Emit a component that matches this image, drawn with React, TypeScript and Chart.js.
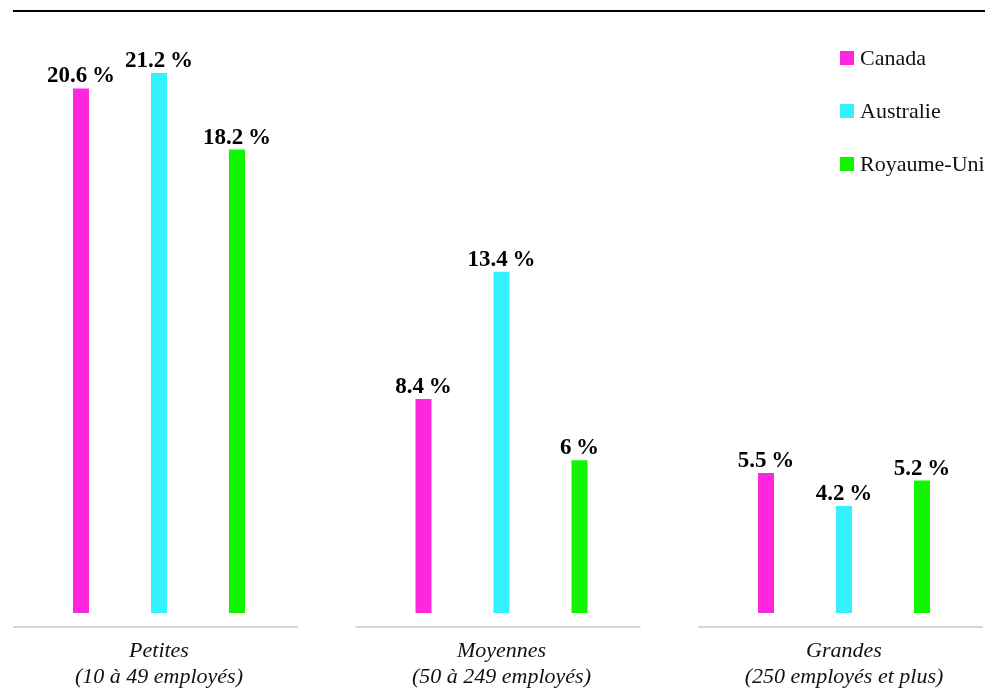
import React, { useEffect, useRef } from "react";
import { Chart, registerables } from "chart.js";

Chart.register(...registerables);

const categories: string[][] = [
  ["Petites", "(10 à 49 employés)"],
  ["Moyennes", "(50 à 249 employés)"],
  ["Grandes", "(250 employés et plus)"],
];
const seriesNames = ["Canada", "Australie", "Royaume-Uni"];
const canadaValues = [20.6, 8.4, 5.5];
const australieValues = [21.2, 13.4, 4.2];
const royaumeUniValues = [18.2, 6, 5.2];
const seriesColors = ["#ff26df", "#35f0ff", "#12f500"];

const fmt = (v: number) => `${v}\u2009%`;

const decorPlugin = {
  id: "decor",
  afterDraw(chart: any) {
    const ctx = chart.ctx;
    const xs = chart.scales.x;
    ctx.save();
    // top rule
    ctx.strokeStyle = "#000";
    ctx.lineWidth = 2;
    ctx.beginPath();
    ctx.moveTo(13, 11);
    ctx.lineTo(985, 11);
    ctx.stroke();
    // axis segments
    ctx.strokeStyle = "#c8c8c8";
    ctx.lineWidth = 1.5;
    const y = chart.chartArea.bottom + 14;
    categories.forEach((_, i) => {
      const p = xs.getPixelForValue(i);
      ctx.beginPath();
      ctx.moveTo(p - 146, y);
      ctx.lineTo(p + 139, y);
      ctx.stroke();
    });
    // legend
    ctx.font = "22px 'Liberation Serif', serif";
    ctx.textAlign = "left";
    ctx.textBaseline = "alphabetic";
    chart.data.datasets.forEach((ds: any, i: number) => {
      const by = 51 + i * 53;
      ctx.fillStyle = ds.backgroundColor;
      ctx.fillRect(840, by, 14, 14);
      ctx.fillStyle = "#111";
      ctx.fillText(ds.label, 860, by + 14);
    });
    ctx.restore();
  },
  afterDatasetsDraw(chart: any) {
    const ctx = chart.ctx;
    ctx.save();
    ctx.font = "bold 23px 'Liberation Serif', serif";
    ctx.textAlign = "center";
    ctx.textBaseline = "alphabetic";
    ctx.fillStyle = "#000";
    chart.data.datasets.forEach((ds: any, di: number) => {
      const meta = chart.getDatasetMeta(di);
      meta.data.forEach((bar: any, i: number) => {
        ctx.fillText(fmt(ds.data[i]), bar.x, bar.y - 6);
      });
    });
    ctx.restore();
  },
};

export default function App() {
  const ref = useRef<HTMLCanvasElement>(null);
  useEffect(() => {
    if (!ref.current) return;
    const values = [canadaValues, australieValues, royaumeUniValues];
    const chart = new Chart(ref.current, {
      type: "bar",
      data: {
        labels: categories as any,
        datasets: seriesNames.map((name, i) => ({
          label: name,
          data: values[i],
          backgroundColor: seriesColors[i],
          categoryPercentage: 0.6832,
          barPercentage: 0.2051,
          clip: false as any,
        })),
      },
      options: {
        animation: false,
        responsive: false,
        devicePixelRatio: 1,
        layout: { padding: { left: 159, right: 148, top: 40, bottom: 0 } },
        plugins: {
          legend: { display: false },
          tooltip: { enabled: false },
        },
        scales: {
          x: {
            offset: false,
            grid: { display: false, drawTicks: false },
            border: { display: false },
            ticks: {
              padding: 25,
              maxRotation: 0,
              autoSkip: false,
              color: "#111",
              font: { family: "'Liberation Serif', serif", size: 22, style: "italic", lineHeight: "26px" as any },
            },
            afterFit: (scale: any) => {
              scale.height = 84;
            },
          },
          y: {
            display: false,
            min: 0,
            max: 22.5,
          },
        },
      },
      plugins: [decorPlugin],
    });
    return () => chart.destroy();
  }, []);
  return (
    <div style={{ position: "fixed", left: 0, top: 0, width: 992, height: 697, background: "#fff" }}>
      <canvas ref={ref} width={992} height={697} style={{ display: "block" }} />
    </div>
  );
}
